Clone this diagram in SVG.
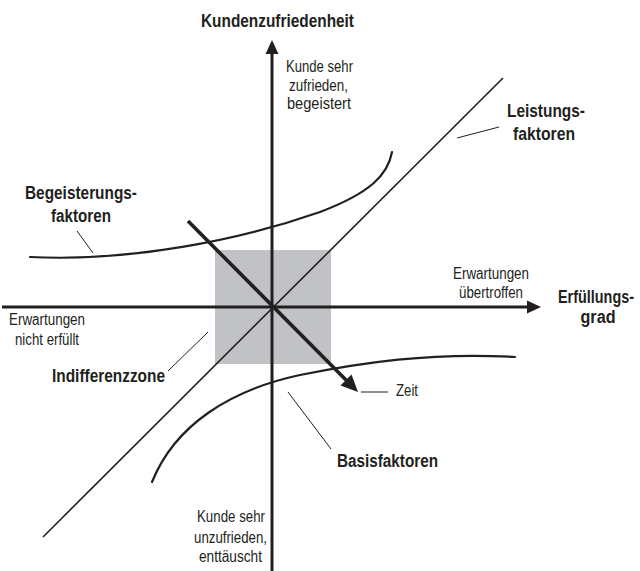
<svg xmlns="http://www.w3.org/2000/svg" width="640" height="571" viewBox="0 0 640 571">
  <style>
    text { font-family: "Liberation Sans Narrow", "Liberation Sans", Arial, sans-serif; fill: #231f20; }
    .b { font-weight: bold; font-size: 18px; }
    .r { font-size: 16px; }
    .m { text-anchor: middle; }
    .axis { stroke: #231f20; stroke-width: 3; fill: none; }
    .thin { stroke: #231f20; stroke-width: 1.6; fill: none; }
    .curve { stroke: #231f20; stroke-width: 2.2; fill: none; stroke-linecap: round; }
    .lead { stroke: #231f20; stroke-width: 1; fill: none; }
    .head { fill: #231f20; }
  </style>

  <!-- indifference zone -->
  <g id="indifferenzzone-area">
    <rect x="215" y="250" width="116" height="114" fill="#c1c2c5"/>
  </g>

  <g id="connectors">
    <!-- performance factors: straight diagonal -->
    <line class="thin" x1="43" y1="537" x2="503" y2="78"/>
    <!-- excitement factors curve -->
    <path class="curve" d="M30,257 C130,262 240,240 320,212 C370,193 388,175 392,152"/>
    <!-- basic factors curve -->
    <path class="curve" d="M152,482 C175,425 230,390 300,375 C360,363 430,352 515,357"/>
    <!-- horizontal axis -->
    <line class="axis" x1="2" y1="307" x2="530" y2="307"/>
    <polygon class="head" points="541,307 527,300.5 527,313.5"/>
    <!-- vertical axis -->
    <line class="axis" x1="272" y1="571" x2="272" y2="52"/>
    <polygon class="head" points="272,40 265.5,54 278.5,54"/>
    <!-- time arrow -->
    <line stroke="#231f20" stroke-width="3.6" x1="188" y1="221" x2="347" y2="381"/>
    <polygon class="head" points="358,392 340.5,385.5 351.5,374.5"/>
    <!-- label leader lines -->
    <line class="lead" x1="457" y1="138" x2="499" y2="127"/>
    <line class="lead" x1="77" y1="231" x2="93" y2="253"/>
    <line class="lead" x1="168" y1="371" x2="208" y2="332"/>
    <line class="lead" x1="361" y1="392" x2="388" y2="392"/>
    <line class="lead" x1="288" y1="392" x2="331" y2="449"/>
  </g>

  <g id="y-axis-label">
    <text class="b m" x="277.5" y="27" textLength="153" lengthAdjust="spacingAndGlyphs">Kundenzufriedenheit</text>
  </g>

  <g id="top-note">
    <text class="r m" x="319.5" y="72" textLength="67" lengthAdjust="spacingAndGlyphs">Kunde sehr</text>
    <text class="r m" x="318.5" y="91" textLength="59" lengthAdjust="spacingAndGlyphs">zufrieden,</text>
    <text class="r m" x="319" y="109" textLength="64" lengthAdjust="spacingAndGlyphs">begeistert</text>
  </g>

  <g id="leistungsfaktoren">
    <text class="b m" x="546" y="117" textLength="78" lengthAdjust="spacingAndGlyphs">Leistungs-</text>
    <text class="b m" x="544" y="140" textLength="62" lengthAdjust="spacingAndGlyphs">faktoren</text>
  </g>

  <g id="begeisterungsfaktoren">
    <text class="b m" x="81" y="199" textLength="112" lengthAdjust="spacingAndGlyphs">Begeisterungs-</text>
    <text class="b m" x="81" y="222" textLength="60" lengthAdjust="spacingAndGlyphs">faktoren</text>
  </g>

  <g id="right-note">
    <text class="r m" x="491" y="279" textLength="76" lengthAdjust="spacingAndGlyphs">Erwartungen</text>
    <text class="r m" x="491" y="298" textLength="64" lengthAdjust="spacingAndGlyphs">übertroffen</text>
  </g>

  <g id="x-axis-label">
    <text class="b m" x="596" y="303" textLength="76" lengthAdjust="spacingAndGlyphs">Erfüllungs-</text>
    <text class="b m" x="598" y="323" textLength="35" lengthAdjust="spacingAndGlyphs">grad</text>
  </g>

  <g id="left-note">
    <text class="r m" x="47" y="325" textLength="76" lengthAdjust="spacingAndGlyphs">Erwartungen</text>
    <text class="r m" x="47" y="345" textLength="64" lengthAdjust="spacingAndGlyphs">nicht erfüllt</text>
  </g>

  <g id="indifferenzzone">
    <text class="b m" x="108.5" y="382" textLength="113" lengthAdjust="spacingAndGlyphs">Indifferenzzone</text>
  </g>

  <g id="zeit">
    <text class="r" x="396" y="396" textLength="22" lengthAdjust="spacingAndGlyphs">Zeit</text>
  </g>

  <g id="basisfaktoren">
    <text class="b m" x="387.5" y="467" textLength="101" lengthAdjust="spacingAndGlyphs">Basisfaktoren</text>
  </g>

  <g id="bottom-note">
    <text class="r m" x="231" y="522" textLength="68" lengthAdjust="spacingAndGlyphs">Kunde sehr</text>
    <text class="r m" x="230.5" y="543" textLength="73" lengthAdjust="spacingAndGlyphs">unzufrieden,</text>
    <text class="r m" x="230.5" y="562" textLength="63" lengthAdjust="spacingAndGlyphs">enttäuscht</text>
  </g>
</svg>
